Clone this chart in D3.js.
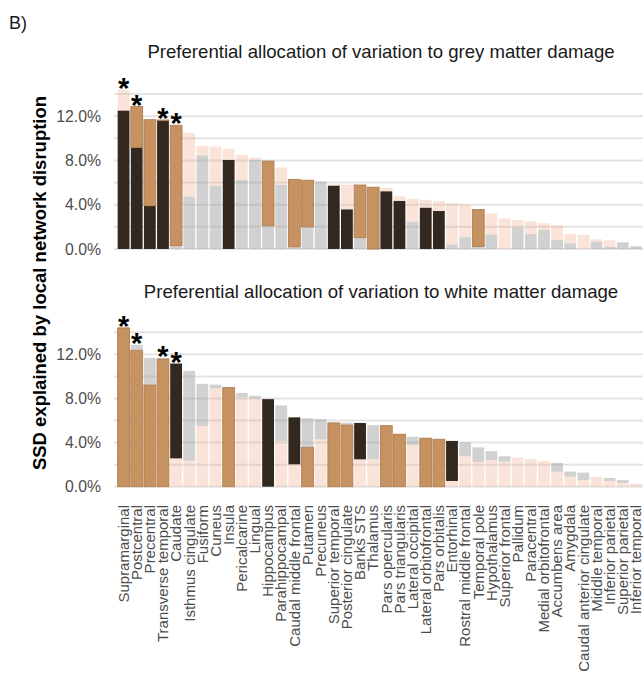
<!DOCTYPE html>
<html>
<head>
<meta charset="utf-8">
<script src="https://cdn.jsdelivr.net/npm/d3@7"></script>
<style>
  html, body { margin: 0; padding: 0; background: #fff; }
  svg { display: block; font-family: "Liberation Sans", Arial, Helvetica, sans-serif; }
</style>
</head>
<body>
<svg id="chart" width="643" height="678"></svg>
<script>
// Brain regions, ordered by total SSD explained
const regions = [
  "Supramarginal", "Postcentral", "Precentral", "Transverse temporal", "Caudate",
  "Isthmus cingulate", "Fusiform", "Cuneus", "Insula", "Pericalcarine",
  "Lingual", "Hippocampus", "Parahippocampal", "Caudal middle frontal", "Putamen",
  "Precuneus", "Superior temporal", "Posterior cingulate", "Banks STS", "Thalamus",
  "Pars opercularis", "Pars triangularis", "Lateral occipital", "Lateral orbitofrontal", "Pars orbitalis",
  "Entorhinal", "Rostral middle frontal", "Temporal pole", "Hypothalamus", "Superior frontal",
  "Pallidum", "Paracentral", "Medial orbitofrontal", "Accumbens area", "Amygdala",
  "Caudal anterior cingulate", "Middle temporal", "Inferior parietal", "Superior parietal", "Inferior temporal"
];

// Total % of SSD explained by local network disruption
const totalSSD = [
  14.40, 12.87, 11.68, 11.65, 11.17, 10.50, 9.32, 9.25, 9.06, 8.50,
  8.24, 7.94, 7.37, 6.29, 6.21, 6.13, 5.84, 5.80, 5.78, 5.58,
  5.54, 4.76, 4.53, 4.44, 4.32, 4.15, 4.02, 3.57, 3.22, 2.76,
  2.63, 2.50, 2.33, 2.15, 1.37, 1.28, 0.88, 0.79, 0.60, 0.25
];

// Share allocated to grey matter damage
const gmShare = [
  12.50, 9.18, 3.91, 11.59, 0.30, 4.73, 8.46, 5.72, 8.04, 6.23,
  8.04, 2.10, 5.78, 0.20, 2.00, 6.05, 5.72, 3.58, 1.02, 0.00,
  5.21, 4.34, 2.47, 3.73, 3.43, 0.42, 1.05, 0.22, 1.32, 0.00,
  1.96, 1.35, 1.72, 0.81, 0.51, 0.00, 0.66, 0.20, 0.60, 0.25
];

// Share allocated to white matter damage
const wmShare = [
  14.40, 12.37, 9.22, 11.58, 2.57, 2.36, 5.50, 8.92, 8.98, 8.10,
  8.01, 0.00, 4.14, 2.03, 3.57, 4.30, 5.78, 5.59, 2.48, 2.48,
  5.53, 4.76, 3.78, 4.39, 4.30, 0.52, 2.78, 2.24, 2.42, 2.27,
  2.60, 2.48, 2.33, 1.36, 0.91, 0.61, 0.85, 0.52, 0.34, 0.22
];

// Highlighted (dark) bars, by region name
const gmPanelFrontDark = ["Supramarginal", "Postcentral", "Precentral", "Transverse temporal", "Insula",
  "Superior temporal", "Posterior cingulate", "Pars opercularis", "Pars triangularis",
  "Lateral orbitofrontal", "Pars orbitalis"];
const gmPanelBackDark = ["Postcentral", "Precentral", "Transverse temporal", "Caudate", "Hippocampus",
  "Caudal middle frontal", "Putamen", "Banks STS", "Thalamus", "Temporal pole"];
const wmPanelFrontDark = ["Supramarginal", "Postcentral", "Precentral", "Transverse temporal", "Insula",
  "Putamen", "Superior temporal", "Posterior cingulate", "Pars opercularis", "Pars triangularis",
  "Lateral orbitofrontal", "Pars orbitalis"];
const wmPanelBackDark = ["Caudate", "Hippocampus", "Caudal middle frontal", "Banks STS", "Entorhinal"];

// Regions marked as significant
const starred = ["Supramarginal", "Postcentral", "Transverse temporal", "Caudate"];

const yTicks = [0, 4, 8, 12];
const yGrid = [0, 2, 4, 6, 8, 10, 12, 14];
const panelTitles = [
  "Preferential allocation of variation to grey matter damage",
  "Preferential allocation of variation to white matter damage"
];

const COL = {
  black: "#33281f",
  tan: "#c69262",
  tanEdge: "#b27e4f",
  peach: "rgba(238,172,138,0.32)",
  grey: "rgba(150,150,150,0.44)",
  grid: "#e4e4e4",
  text: "#4d4d4d"
};

const svg = d3.select("#chart");

const x = d3.scaleBand()
  .domain(regions)
  .range([117.0, 642.5])
  .paddingInner(0.1)
  .paddingOuter(0.05);

svg.append("text")
  .attr("x", 9).attr("y", 29)
  .attr("font-size", 18).attr("fill", "#1a1a1a")
  .text("B)");

const panels = [
  {
    title: panelTitles[0], titleY: 58,
    y: d3.scaleLinear().domain([0, 14]).range([249, 94]),
    front: gmShare, frontDark: gmPanelFrontDark, backDark: gmPanelBackDark,
    frontColors: [COL.black, COL.grey], backColors: [COL.tan, COL.peach]
  },
  {
    title: panelTitles[1], titleY: 298,
    y: d3.scaleLinear().domain([0, 14]).range([486.7, 332.3]),
    front: wmShare, frontDark: wmPanelFrontDark, backDark: wmPanelBackDark,
    frontColors: [COL.tan, COL.peach], backColors: [COL.black, COL.grey]
  }
];

panels.forEach(p => {
  const g = svg.append("g");
  const y = p.y;

  g.append("text")
    .attr("x", 381).attr("y", p.titleY)
    .attr("text-anchor", "middle")
    .attr("font-size", 18.6).attr("fill", "#1a1a1a")
    .text(p.title);

  // grid lines
  g.selectAll("line.grid").data(yGrid).join("line")
    .attr("class", "grid")
    .attr("x1", 114).attr("x2", 643)
    .attr("y1", d => y(d)).attr("y2", d => y(d))
    .attr("stroke", COL.grid).attr("stroke-width", 2);

  // y tick labels
  g.selectAll("text.tick").data(yTicks).join("text")
    .attr("class", "tick")
    .attr("x", 101).attr("y", d => y(d)).attr("dy", "0.35em")
    .attr("text-anchor", "end")
    .attr("font-size", 15.8).attr("fill", COL.text)
    .text(d => d3.format(".1f")(d) + "%");

  const rows = regions.map((r, i) => ({
    region: r,
    total: totalSSD[i],
    front: Math.min(p.front[i], totalSSD[i]),
    frontColor: p.frontDark.includes(r) ? p.frontColors[0] : p.frontColors[1],
    backColor: p.backDark.includes(r) ? p.backColors[0] : p.backColors[1]
  }));

  const segs = [];
  rows.forEach(d => {
    if (d.front > 0) segs.push({ region: d.region, y0: 0, y1: d.front, color: d.frontColor });
    if (d.total > d.front) segs.push({ region: d.region, y0: d.front, y1: d.total, color: d.backColor });
  });

  g.selectAll("rect.seg").data(segs).join("rect")
    .attr("class", "seg")
    .attr("x", d => x(d.region))
    .attr("width", x.bandwidth())
    .attr("y", d => y(d.y1))
    .attr("height", d => y(d.y0) - y(d.y1))
    .attr("fill", d => d.color)
    .attr("stroke", d => d.color === COL.tan ? COL.tanEdge : "none")
    .attr("stroke-width", 0.9);

  // significance markers
  g.selectAll("text.star").data(rows.filter(d => starred.includes(d.region))).join("text")
    .attr("class", "star")
    .attr("x", d => x(d.region) + x.bandwidth() / 2)
    .attr("y", d => y(d.total) + 8)
    .attr("text-anchor", "middle")
    .attr("font-size", 29).attr("font-weight", "bold").attr("fill", "#000")
    .text("*");
});

// region labels under the lower panel
svg.append("g").selectAll("text").data(regions).join("text")
  .attr("transform", d => `translate(${x(d) + x.bandwidth() / 2},505) rotate(-90)`)
  .attr("dy", "0.35em")
  .attr("text-anchor", "end")
  .attr("font-size", 15).attr("fill", COL.text)
  .text(d => d);

// shared y axis title
svg.append("text")
  .attr("transform", "translate(40,283) rotate(-90)")
  .attr("dy", "0.35em")
  .attr("text-anchor", "middle")
  .attr("font-size", 18.5).attr("font-weight", "bold").attr("fill", "#000")
  .text("SSD explained by local network disruption");
</script>
</body>
</html>
